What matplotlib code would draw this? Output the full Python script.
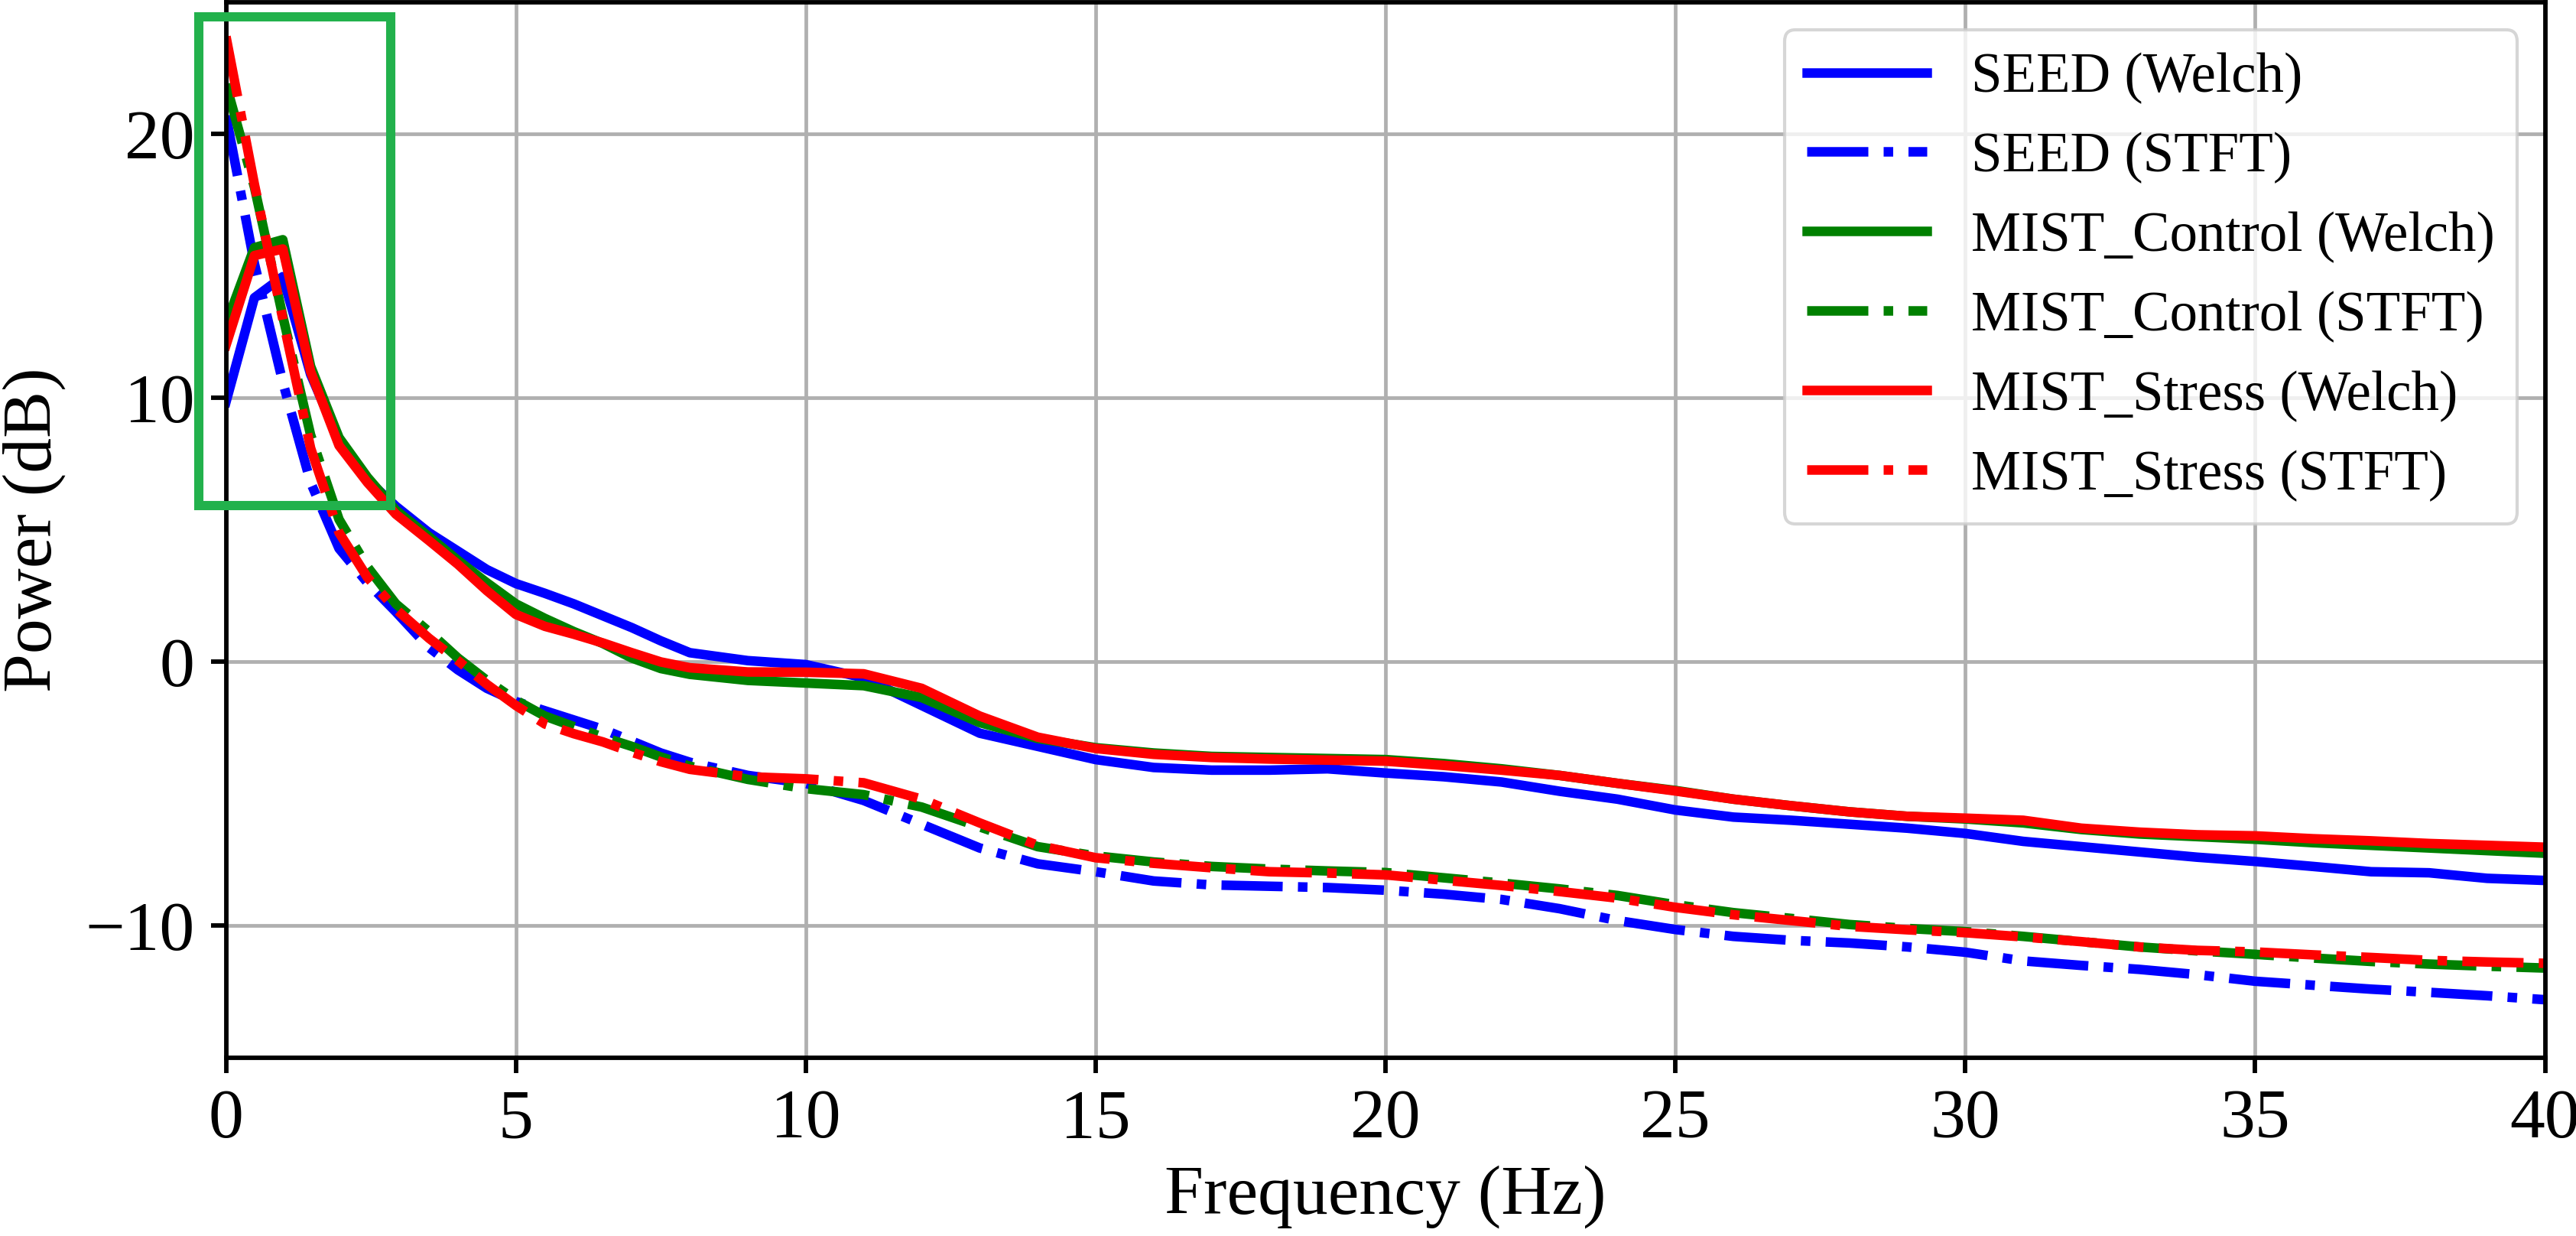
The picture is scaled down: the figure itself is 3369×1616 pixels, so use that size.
import matplotlib
matplotlib.use("Agg")
import matplotlib.pyplot as plt
from matplotlib.patches import Rectangle

plt.rcParams['font.family'] = ['Liberation Serif', 'DejaVu Serif']
plt.rcParams['mathtext.fontset'] = 'stix'

# frecuencias (Hz)
freqs = [0, 0.49, 0.98, 1.46, 1.95, 2.44, 2.93, 3.5, 4, 4.5, 5, 5.5, 6, 6.5, 7, 7.5, 8, 9, 10,
         11, 12, 13, 14, 15, 16, 17, 18, 19, 20, 21, 22, 23, 24, 25,
         26, 27, 28, 29, 30, 31, 32, 33, 34, 35, 36, 37, 38, 39, 40]

# potencia (dB) - Welch
seed_welch = [9.85, 13.8, 14.6, 10.9, 8.4, 6.9, 5.9, 4.9, 4.2, 3.5, 2.97, 2.6, 2.2, 1.75, 1.3, 0.8, 0.35, 0.05, -0.1,
              -0.6, -1.65, -2.7, -3.2, -3.7, -4.0, -4.1, -4.1, -4.05, -4.21, -4.35, -4.55, -4.9, -5.2, -5.61,
              -5.88, -6.0, -6.15, -6.3, -6.5, -6.8, -7.0, -7.2, -7.4, -7.56, -7.75, -7.95, -7.99, -8.2, -8.28]
control_welch = [12.8, 15.7, 16.0, 11.2, 8.5, 7.0, 5.75, 4.75, 3.85, 3.0, 2.2, 1.65, 1.15, 0.7, 0.15, -0.25, -0.47, -0.7, -0.8,
                 -0.9, -1.35, -2.3, -2.9, -3.25, -3.45, -3.58, -3.62, -3.66, -3.7, -3.85, -4.05, -4.3, -4.6, -4.87,
                 -5.2, -5.45, -5.68, -5.85, -5.95, -6.1, -6.35, -6.52, -6.62, -6.72, -6.85, -6.95, -7.05, -7.15, -7.25]
stress_welch = [12.0, 15.4, 15.65, 11.0, 8.2, 6.8, 5.6, 4.6, 3.7, 2.7, 1.8, 1.35, 1.05, 0.72, 0.35, 0.0, -0.22, -0.38, -0.39,
                -0.45, -1.0, -2.05, -2.85, -3.28, -3.5, -3.62, -3.68, -3.72, -3.76, -3.92, -4.1, -4.3, -4.6, -4.89,
                -5.2, -5.45, -5.68, -5.85, -5.92, -6.0, -6.3, -6.45, -6.55, -6.59, -6.7, -6.78, -6.88, -6.95, -7.02]

# potencia (dB) - STFT
seed_stft = [20.7, 15.1, 10.6, 6.8, 4.3, 3.0, 1.9, 0.55, -0.3, -1.0, -1.5, -1.85, -2.2, -2.55, -3.0, -3.45, -3.8, -4.3, -4.6,
             -5.25, -6.15, -7.05, -7.65, -7.95, -8.3, -8.45, -8.5, -8.55, -8.65, -8.8, -9.0, -9.35, -9.8, -10.14,
             -10.4, -10.55, -10.65, -10.8, -11.0, -11.33, -11.5, -11.65, -11.85, -12.1, -12.25, -12.4, -12.52, -12.65, -12.8]
control_stft = [21.9, 18.0, 13.1, 8.6, 5.4, 3.6, 2.2, 1.15, 0.15, -0.7, -1.45, -2.05, -2.45, -2.85, -3.2, -3.6, -3.95, -4.45, -4.8,
                -5.03, -5.5, -6.25, -7.0, -7.35, -7.58, -7.75, -7.85, -7.92, -7.98, -8.18, -8.38, -8.6, -8.85, -9.2,
                -9.5, -9.72, -9.95, -10.1, -10.22, -10.4, -10.6, -10.8, -10.95, -11.08, -11.22, -11.35, -11.45, -11.53, -11.6]
stress_stft = [23.7, 18.1, 13.0, 8.1, 4.9, 3.2, 2.0, 0.9, 0.05, -0.85, -1.65, -2.35, -2.72, -3.03, -3.42, -3.78, -4.07, -4.35, -4.43,
               -4.58, -5.2, -6.1, -6.95, -7.42, -7.63, -7.8, -7.95, -8.0, -8.07, -8.27, -8.47, -8.7, -8.95, -9.3,
               -9.58, -9.8, -10.02, -10.15, -10.26, -10.42, -10.6, -10.8, -10.93, -10.99, -11.1, -11.2, -11.31, -11.37, -11.42]

series = [
    ('SEED (Welch)', seed_welch, 'blue', '-'),
    ('SEED (STFT)', seed_stft, 'blue', '-.'),
    ('MIST_Control (Welch)', control_welch, 'green', '-'),
    ('MIST_Control (STFT)', control_stft, 'green', '-.'),
    ('MIST_Stress (Welch)', stress_welch, 'red', '-'),
    ('MIST_Stress (STFT)', stress_stft, 'red', '-.'),
]

fig = plt.figure(figsize=(3370 / 300, 1616 / 300), dpi=300)
ax = fig.add_axes([0.0877, 0.1442, 0.9, 0.854])

for nombre, valores, color, estilo in series:
    ax.plot(freqs, valores, color=color, linestyle=estilo, linewidth=3.0, label=nombre)

ax.set_xlim(0, 40)
ax.set_ylim(-15, 25)
ax.set_xticks([0, 5, 10, 15, 20, 25, 30, 35, 40])
ax.set_yticks([-10, 0, 10, 20])
ax.grid(True, color='#b0b0b0', linewidth=1.15)
ax.set_axisbelow(True)

ax.tick_params(labelsize=22, length=4.8, width=1.4, pad=5)
for sp in ax.spines.values():
    sp.set_linewidth(1.4)

ax.set_xlabel('Frequency (Hz)', fontsize=22, labelpad=4)
ax.set_ylabel('Power (dB)', fontsize=22, labelpad=6)

# recuadro de la zona de baja frecuencia
ax.add_patch(Rectangle((-0.47, 5.93), 3.31, 18.53, fill=False,
                       edgecolor='#22B14C', linewidth=2.9, clip_on=False, zorder=5))

ax.legend(loc='upper right', fontsize=17.5, handlelength=2.15)

fig.savefig('out.png', dpi=300)
